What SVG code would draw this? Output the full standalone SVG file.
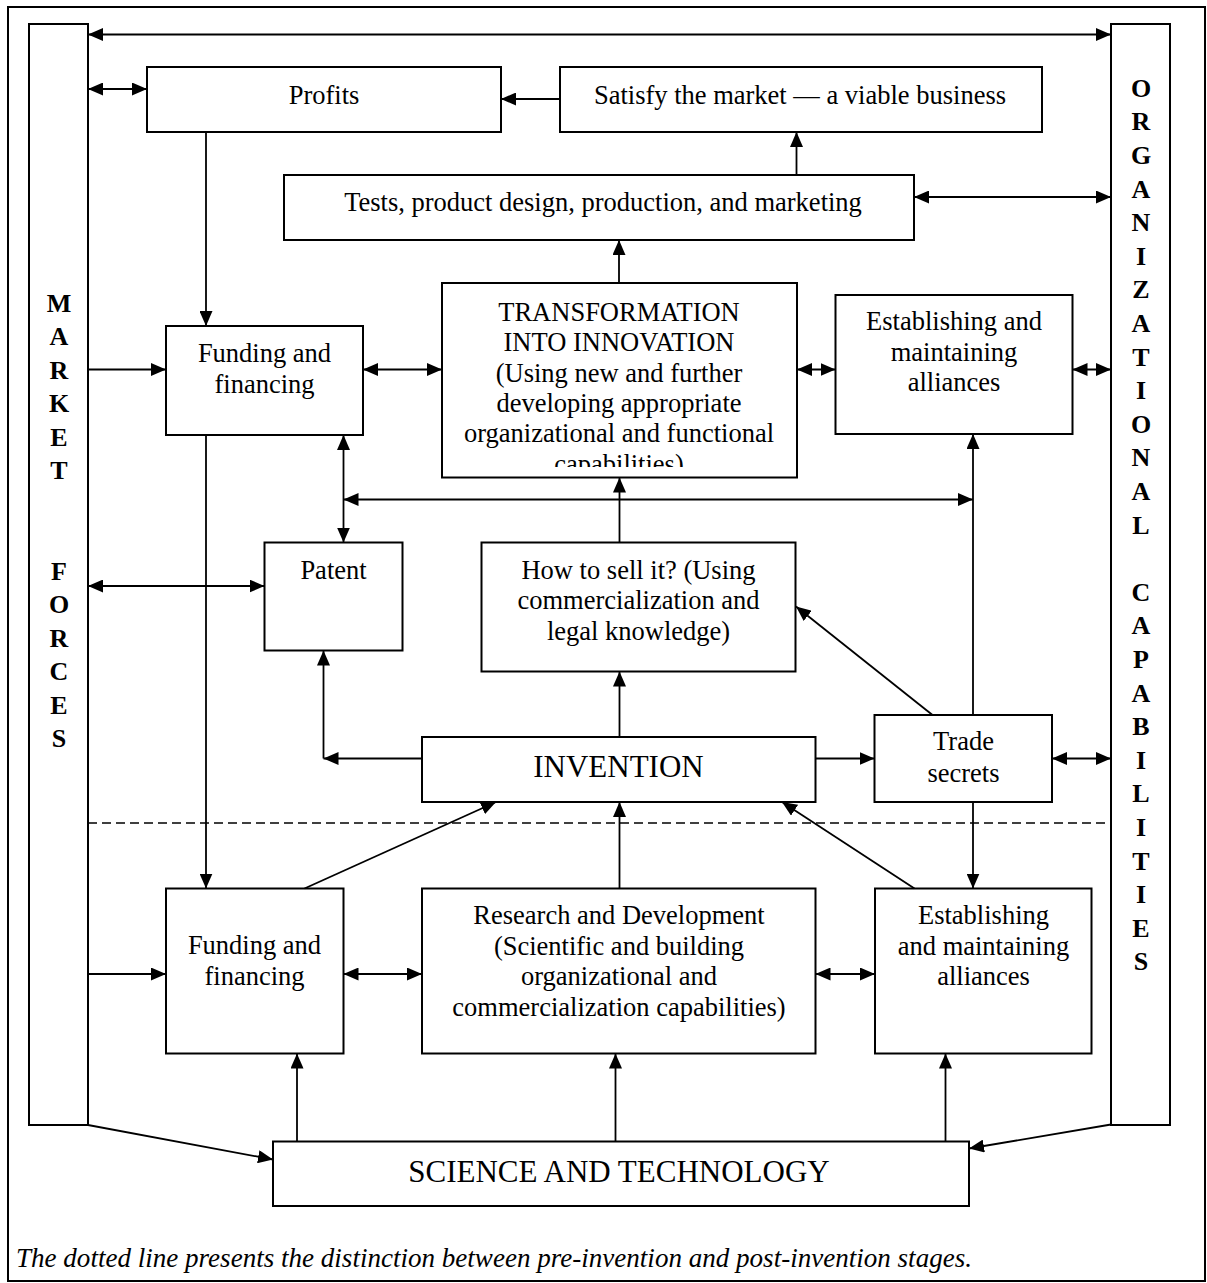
<svg xmlns="http://www.w3.org/2000/svg" width="1207" height="1283" viewBox="0 0 1207 1283">
<style>
.box{fill:#fff;stroke:#000;stroke-width:2}
.t{font-family:"Liberation Serif","Times New Roman",serif;font-size:26.5px;text-anchor:middle;fill:#000}
.big{font-size:31px}
.side{font-weight:bold;font-size:26px}
.cap{font-style:italic;font-size:27px;text-anchor:start}
.c{stroke:#000;stroke-width:1.8;fill:none}
.s{marker-start:url(#a)}
.e{marker-end:url(#a)}
.dash{stroke:#000;stroke-width:1.7;stroke-dasharray:9 5;fill:none}
</style>
<defs>
<marker id="a" viewBox="0 0 15 13" refX="15" refY="6.5" markerWidth="15" markerHeight="13" markerUnits="userSpaceOnUse" orient="auto-start-reverse">
<path d="M0,0 L15,6.5 L0,13 z" fill="#000"/>
</marker>
<clipPath id="transClip"><rect x="443" y="284" width="353" height="183"/></clipPath>
</defs>
<rect x="0" y="0" width="1207" height="1283" fill="#fff"/>
<rect x="8" y="7" width="1197" height="1274" fill="none" stroke="#000" stroke-width="2"/>

<g id="market">
<rect class="box" x="29" y="24" width="59" height="1101"/>
<text class="t side" x="59" y="311.5">M</text>
<text class="t side" x="59" y="345">A</text>
<text class="t side" x="59" y="378.5">R</text>
<text class="t side" x="59" y="412">K</text>
<text class="t side" x="59" y="445.5">E</text>
<text class="t side" x="59" y="479">T</text>
<text class="t side" x="59" y="579.5">F</text>
<text class="t side" x="59" y="613">O</text>
<text class="t side" x="59" y="646.5">R</text>
<text class="t side" x="59" y="680">C</text>
<text class="t side" x="59" y="713.5">E</text>
<text class="t side" x="59" y="747">S</text>
</g>

<g id="org">
<rect class="box" x="1111" y="24" width="59" height="1101"/>
<text class="t side" x="1141" y="96.7">O</text>
<text class="t side" x="1141" y="130.3">R</text>
<text class="t side" x="1141" y="163.9">G</text>
<text class="t side" x="1141" y="197.5">A</text>
<text class="t side" x="1141" y="231.1">N</text>
<text class="t side" x="1141" y="264.7">I</text>
<text class="t side" x="1141" y="298.3">Z</text>
<text class="t side" x="1141" y="331.9">A</text>
<text class="t side" x="1141" y="365.5">T</text>
<text class="t side" x="1141" y="399.1">I</text>
<text class="t side" x="1141" y="432.7">O</text>
<text class="t side" x="1141" y="466.3">N</text>
<text class="t side" x="1141" y="499.9">A</text>
<text class="t side" x="1141" y="533.5">L</text>
<text class="t side" x="1141" y="600.7">C</text>
<text class="t side" x="1141" y="634.3">A</text>
<text class="t side" x="1141" y="667.9">P</text>
<text class="t side" x="1141" y="701.5">A</text>
<text class="t side" x="1141" y="735.1">B</text>
<text class="t side" x="1141" y="768.7">I</text>
<text class="t side" x="1141" y="802.3">L</text>
<text class="t side" x="1141" y="835.9">I</text>
<text class="t side" x="1141" y="869.5">T</text>
<text class="t side" x="1141" y="903.1">I</text>
<text class="t side" x="1141" y="936.7">E</text>
<text class="t side" x="1141" y="970.3">S</text>
</g>

<g id="profits">
<rect class="box" x="147" y="67" width="354" height="65"/>
<text class="t" x="324" y="103.5">Profits</text>
</g>
<g id="satisfy">
<rect class="box" x="560" y="67" width="482" height="65"/>
<text class="t" x="800" y="103.5">Satisfy the market — a viable business</text>
</g>
<g id="tests">
<rect class="box" x="284" y="175" width="630" height="65"/>
<text class="t" x="603" y="211">Tests, product design, production, and marketing</text>
</g>
<g id="funding-top">
<rect class="box" x="166" y="326" width="197" height="109"/>
<text class="t" x="264.5" y="362">Funding and</text>
<text class="t" x="264.5" y="393">financing</text>
</g>
<g id="transformation">
<rect class="box" x="442" y="283" width="355" height="194.5"/>
<g clip-path="url(#transClip)">
<text class="t" x="619" y="321">TRANSFORMATION</text>
<text class="t" x="619" y="351">INTO INNOVATION</text>
<text class="t" x="619" y="381.5">(Using new and further</text>
<text class="t" x="619" y="412">developing appropriate</text>
<text class="t" x="619" y="442">organizational and functional</text>
<text class="t" x="619" y="472.5">capabilities)</text>
</g>
</g>
<g id="alliances-top">
<rect class="box" x="835.5" y="295" width="237" height="139"/>
<text class="t" x="954" y="330">Establishing and</text>
<text class="t" x="954" y="360.5">maintaining</text>
<text class="t" x="954" y="391">alliances</text>
</g>
<g id="patent">
<rect class="box" x="264.5" y="542.5" width="138" height="108"/>
<text class="t" x="333.5" y="578.5">Patent</text>
</g>
<g id="howtosell">
<rect class="box" x="481.5" y="542.5" width="314" height="129"/>
<text class="t" x="638.5" y="578.5">How to sell it? (Using</text>
<text class="t" x="638.5" y="609">commercialization and</text>
<text class="t" x="638.5" y="639.5">legal knowledge)</text>
</g>
<g id="invention">
<rect class="box" x="422" y="737" width="393.5" height="65"/>
<text class="t big" x="618.5" y="777">INVENTION</text>
</g>
<g id="tradesecrets">
<rect class="box" x="874.5" y="715" width="177.5" height="87"/>
<text class="t" x="963.5" y="750">Trade</text>
<text class="t" x="963.5" y="781.5">secrets</text>
</g>
<g id="funding-bottom">
<rect class="box" x="166" y="888.5" width="177.5" height="165"/>
<text class="t" x="254.5" y="954">Funding and</text>
<text class="t" x="254.5" y="985">financing</text>
</g>
<g id="rnd">
<rect class="box" x="422" y="888.5" width="393.5" height="165"/>
<text class="t" x="619" y="924">Research and Development</text>
<text class="t" x="619" y="954.5">(Scientific and building</text>
<text class="t" x="619" y="985">organizational and</text>
<text class="t" x="619" y="1015.5">commercialization capabilities)</text>
</g>
<g id="alliances-bottom">
<rect class="box" x="875" y="888.5" width="216.5" height="165"/>
<text class="t" x="983.5" y="924">Establishing</text>
<text class="t" x="983.5" y="954.5">and maintaining</text>
<text class="t" x="983.5" y="985">alliances</text>
</g>
<g id="science">
<rect class="box" x="273" y="1141.5" width="696" height="64.5"/>
<text class="t big" x="619" y="1182">SCIENCE AND TECHNOLOGY</text>
</g>

<g id="connectors">
<line class="c s e" x1="88" y1="34.5" x2="1111" y2="34.5"/>
<line class="c s e" x1="88" y1="89" x2="147" y2="89"/>
<line class="c e" x1="560" y1="99" x2="501" y2="99"/>
<line class="c e" x1="796.5" y1="175" x2="796.5" y2="132"/>
<line class="c s e" x1="914" y1="197" x2="1111" y2="197"/>
<line class="c e" x1="619" y1="283" x2="619" y2="240"/>
<line class="c e" x1="206" y1="132" x2="206" y2="326"/>
<line class="c e" x1="88" y1="369.5" x2="166" y2="369.5"/>
<line class="c s e" x1="363" y1="369.5" x2="442" y2="369.5"/>
<line class="c s e" x1="797" y1="369.5" x2="835.5" y2="369.5"/>
<line class="c s e" x1="1072.5" y1="369.5" x2="1111" y2="369.5"/>
<line class="c s e" x1="343.5" y1="435" x2="343.5" y2="542.5"/>
<line class="c s e" x1="343.5" y1="499.5" x2="973" y2="499.5"/>
<line class="c e" x1="973" y1="715" x2="973" y2="434"/>
<line class="c e" x1="619.5" y1="542.5" x2="619.5" y2="477.5"/>
<line class="c s e" x1="88" y1="586" x2="264.5" y2="586"/>
<line class="c e" x1="206" y1="435" x2="206" y2="888.5"/>
<line class="c e" x1="932.5" y1="715" x2="796" y2="606.5"/>
<line class="c e" x1="422" y1="758.5" x2="323.5" y2="758.5"/>
<line class="c e" x1="323.5" y1="758.5" x2="323.5" y2="650.5"/>
<line class="c e" x1="619.5" y1="737" x2="619.5" y2="671.5"/>
<line class="c e" x1="815.5" y1="758.5" x2="874.5" y2="758.5"/>
<line class="c s e" x1="1052" y1="758.5" x2="1111" y2="758.5"/>
<line class="dash" x1="88" y1="823" x2="1111" y2="823"/>
<line class="c e" x1="304.5" y1="888.5" x2="496" y2="802"/>
<line class="c e" x1="619.5" y1="888.5" x2="619.5" y2="802"/>
<line class="c e" x1="914.5" y1="888.5" x2="782" y2="802"/>
<line class="c e" x1="973" y1="802" x2="973" y2="888.5"/>
<line class="c e" x1="88" y1="974" x2="166" y2="974"/>
<line class="c s e" x1="343.5" y1="974" x2="422" y2="974"/>
<line class="c s e" x1="815.5" y1="974" x2="875" y2="974"/>
<line class="c e" x1="297" y1="1141.5" x2="297" y2="1053.5"/>
<line class="c e" x1="615.5" y1="1141.5" x2="615.5" y2="1053.5"/>
<line class="c e" x1="945.5" y1="1141.5" x2="945.5" y2="1053.5"/>
<line class="c e" x1="88" y1="1125" x2="273" y2="1159.5"/>
<line class="c e" x1="1111" y1="1124.5" x2="969" y2="1148.5"/>
</g>

<text class="t cap" x="16" y="1267" textLength="956" lengthAdjust="spacingAndGlyphs">The dotted line presents the distinction between pre-invention and post-invention stages.</text>
</svg>
